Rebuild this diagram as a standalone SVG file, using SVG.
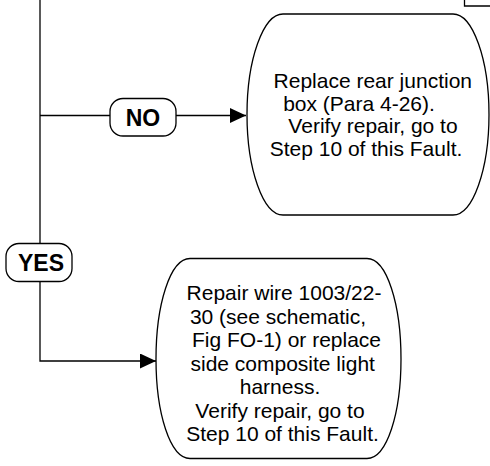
<svg xmlns="http://www.w3.org/2000/svg" width="490" height="466" viewBox="0 0 490 466">
<style>
.ln{fill:none;stroke:#000;stroke-width:1.3}
.box{fill:#fff;stroke:#000;stroke-width:1.3}
.t{font-family:"Liberation Sans",Arial,sans-serif;font-size:21px;fill:#000;text-anchor:middle}
.b{font-family:"Liberation Sans",Arial,sans-serif;font-size:23px;font-weight:bold;fill:#000;text-anchor:middle}
</style>
<defs>
<marker id="arr" markerUnits="userSpaceOnUse" markerWidth="16" markerHeight="15" refX="16" refY="7.5" orient="auto">
<path d="M0,0 L16,7.5 L0,15 Z" fill="#000"/>
</marker>
</defs>
<g id="connectors">
<path class="ln" d="M464.5,0 V6 H490"/>
<path class="ln" d="M40,0 V243.5"/>
<path class="ln" d="M40,115.5 H110"/>
<path class="ln" d="M176,115.5 H246" marker-end="url(#arr)"/>
<path class="ln" d="M40,281.5 V361 H156" marker-end="url(#arr)"/>
</g>
<g id="no">
<rect class="box" x="110" y="98.5" width="66" height="37.5" rx="13" ry="13"/>
<text class="b" x="143" y="125.5">NO</text>
</g>
<g id="yes">
<rect class="box" x="6" y="243.5" width="66" height="38" rx="13" ry="13"/>
<text class="b" x="41" y="271">YES</text>
</g>
<g id="box1">
<path class="box" d="M283,14 L453,14 C473,14 489,60 489,114.5 C489,169 473,215 453,215 L283,215 C263,215 247,169 247,114.5 C247,60 263,14 283,14 Z"/>
<text class="t" x="372.8" y="88">Replace rear junction</text>
<text class="t" x="359" y="110.6">box (Para 4-26).</text>
<text class="t" x="373" y="133.2">Verify repair, go to</text>
<text class="t" x="366" y="155.8">Step 10 of this Fault.</text>
</g>
<g id="box2">
<path class="box" d="M190,258.5 L367,258.5 C387,258.5 401,305 401,359 C401,413 387,458.5 367,458.5 L190,458.5 C170,458.5 156,413 156,359 C156,305 170,258.5 190,258.5 Z"/>
<text class="t" x="284" y="300">Repair wire 1003/22-</text>
<text class="t" x="278" y="323.5">30 (see schematic,</text>
<text class="t" x="286.5" y="347">Fig FO-1) or replace</text>
<text class="t" x="282.7" y="370.5">side composite light</text>
<text class="t" x="280" y="394">harness.</text>
<text class="t" x="280" y="417.5">Verify repair, go to</text>
<text class="t" x="282.5" y="441">Step 10 of this Fault.</text>
</g>
</svg>
